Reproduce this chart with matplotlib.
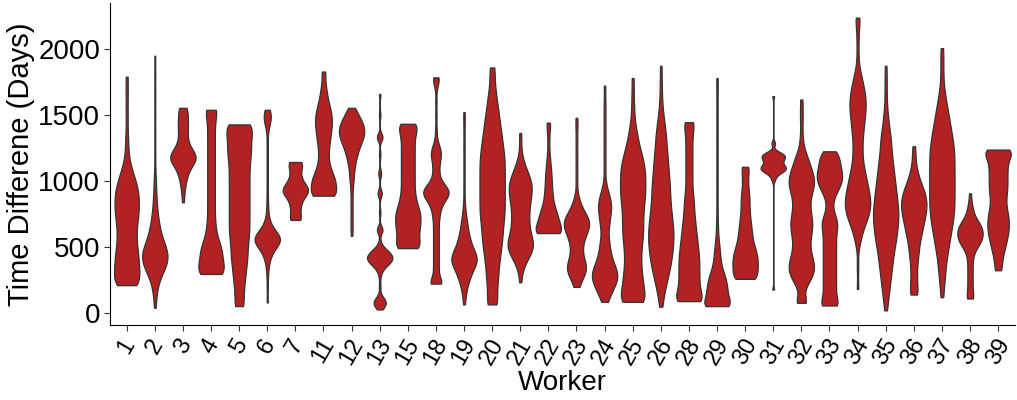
import numpy as np
import matplotlib.pyplot as plt

plt.rcParams['font.family'] = ['Liberation Sans', 'DejaVu Sans']

workers = ['1', '2', '3', '4', '5', '6', '7', '11', '12', '13', '15', '18', '19', '20',
           '21', '22', '23', '24', '25', '26', '28', '29', '30', '31', '32', '33', '34',
           '35', '36', '37', '38', '39']

# time differences (days) per worker: distinct values and how often each occurs
v1 = [209, 260, 320, 380, 440, 500, 560, 620, 680, 740, 800, 860, 920, 980, 1040, 1100, 1170, 1250, 1350, 1500, 1650, 1791]
n1 = [6, 5, 5, 5, 5, 4, 4, 4, 4, 5, 5, 5, 5, 4, 3, 2, 1, 1, 1, 1, 1, 1]
v2 = [38, 100, 160, 220, 280, 330, 380, 430, 480, 530, 590, 650, 720, 800, 880, 970, 1060, 1200, 1350, 1500, 1650, 1800, 1950]
n2 = [1, 1, 2, 3, 5, 8, 11, 12, 10, 8, 6, 5, 4, 3, 2, 2, 1, 1, 1, 1, 1, 1, 1]
v3 = [838, 900, 960, 1020, 1080, 1140, 1180, 1220, 1270, 1320, 1370, 1420, 1470, 1520, 1555]
n3 = [1, 1, 2, 3, 5, 8, 9, 7, 4, 3, 3, 4, 3, 3, 3]
v4 = [294, 330, 370, 410, 450, 490, 530, 580, 640, 700, 760, 820, 880, 940, 1000, 1060, 1120, 1180,
      1240, 1300, 1360, 1420, 1480, 1540]
n4 = [12, 6, 6, 6, 6, 6, 5, 4, 4, 3, 3, 3, 3, 3, 3, 3, 3, 3, 3, 3, 3, 3, 3, 7]
v5 = [50, 110, 170, 230, 290, 350, 410, 470, 530, 590, 650, 710, 770, 830, 890, 950, 1010, 1070,
      1130, 1190, 1250, 1310, 1370, 1429]
n5 = [4, 2, 3, 3, 4, 4, 5, 5, 5, 6, 6, 6, 6, 6, 6, 6, 6, 6, 6, 7, 7, 7, 7, 10]
v6 = [78, 200, 300, 350, 400, 450, 500, 540, 570, 600, 650, 700, 760, 820, 900, 1000, 1100, 1200,
      1300, 1400, 1440, 1480, 1510, 1540]
n6 = [1, 1, 1, 1, 2, 4, 7, 9, 9, 7, 4, 2, 1, 1, 1, 1, 1, 1, 1, 1, 2, 3, 2, 2]
v7 = [704, 740, 780, 820, 860, 900, 930, 960, 1000, 1040, 1080, 1120, 1144]
n7 = [5, 2, 3, 3, 4, 6, 7, 6, 4, 3, 3, 3, 5]
v11 = [888, 930, 970, 1010, 1050, 1100, 1150, 1200, 1250, 1300, 1350, 1400, 1450, 1500, 1550, 1600,
       1650, 1700, 1760, 1830]
n11 = [10, 5, 6, 6, 5, 4, 3, 3, 3, 4, 4, 5, 5, 5, 4, 3, 2, 2, 1, 2]
v12 = [584, 650, 720, 790, 860, 930, 1000, 1060, 1120, 1180, 1230, 1280, 1320, 1360, 1400, 1440,
       1480, 1520, 1555]
n12 = [1, 1, 1, 1, 1, 1, 2, 2, 3, 4, 5, 6, 7, 8, 8, 7, 5, 3, 2]
v13 = [25, 50, 75, 100, 125, 200, 277, 330, 370, 400, 430, 460, 490, 530, 629, 760, 906, 1057,
       1200, 1333, 1500, 1660]
n13 = [1, 3, 4, 3, 1, 1, 1, 3, 6, 8, 8, 6, 3, 1, 4, 1, 3, 2, 1, 4, 1, 1]
v15 = [490, 530, 570, 610, 650, 690, 730, 770, 810, 860, 910, 960, 1010, 1060, 1110, 1160, 1210,
       1260, 1310, 1360, 1400, 1434]
n15 = [9, 5, 5, 5, 6, 6, 6, 6, 5, 5, 4, 4, 4, 4, 4, 4, 4, 4, 4, 4, 4, 6]
v18 = [221, 260, 320, 380, 440, 500, 560, 620, 680, 740, 800, 850, 890, 920, 950, 990, 1040, 1090,
       1140, 1180, 1210, 1240, 1280, 1330, 1400, 1500, 1600, 1700, 1750, 1786]
n18 = [7, 3, 3, 3, 3, 3, 3, 3, 3, 4, 5, 7, 8, 8, 7, 5, 3, 3, 3, 3, 3, 3, 2, 1, 1, 1, 1, 1, 2, 3]
v19 = [63, 110, 160, 210, 260, 310, 360, 400, 440, 480, 530, 580, 640, 700, 770, 850, 950, 1050,
       1150, 1250, 1350, 1450, 1522]
n19 = [1, 1, 2, 3, 5, 7, 9, 10, 9, 7, 6, 5, 4, 3, 2, 1, 1, 1, 1, 1, 1, 1, 1]
v20 = [63, 120, 180, 240, 300, 360, 420, 480, 540, 600, 660, 720, 780, 840, 900, 960, 1020, 1080,
       1140, 1200, 1260, 1320, 1380, 1440, 1500, 1560, 1620, 1680, 1740, 1800, 1861]
n20 = [4, 2, 2, 3, 3, 3, 4, 4, 5, 5, 5, 6, 6, 6, 6, 6, 6, 6, 6, 6, 5, 5, 4, 4, 3, 3, 2, 2, 1, 1, 2]
v21 = [231, 300, 350, 400, 450, 500, 550, 600, 650, 700, 750, 800, 850, 900, 950, 1000, 1050, 1100,
       1150, 1200, 1280, 1364]
n21 = [1, 1, 2, 4, 6, 8, 7, 6, 5, 5, 5, 5, 6, 6, 7, 6, 5, 3, 2, 1, 1, 1]
v22 = [604, 640, 680, 720, 760, 800, 850, 900, 950, 1000, 1050, 1100, 1150, 1200, 1260, 1320, 1380,
       1420, 1442]
n22 = [16, 7, 8, 7, 6, 5, 4, 4, 3, 3, 3, 2, 2, 1, 1, 1, 1, 1, 2]
v23 = [196, 240, 280, 320, 360, 400, 440, 480, 520, 560, 600, 640, 680, 720, 760, 800, 850, 900,
       1000, 1100, 1200, 1300, 1400, 1479]
n23 = [2, 2, 4, 5, 5, 4, 3, 3, 3, 4, 5, 6, 7, 6, 4, 3, 2, 1, 1, 1, 1, 1, 1, 1]
v24 = [83, 130, 180, 230, 280, 330, 380, 430, 480, 530, 580, 630, 680, 730, 780, 830, 880, 930,
       1000, 1100, 1200, 1300, 1400, 1500, 1600, 1723]
n24 = [2, 3, 5, 7, 8, 7, 5, 4, 3, 3, 2, 2, 3, 3, 4, 4, 3, 2, 1, 1, 1, 1, 1, 1, 1, 1]
v25 = [83, 140, 200, 260, 320, 380, 440, 500, 560, 620, 680, 740, 800, 860, 920, 980, 1040, 1100,
       1160, 1220, 1280, 1340, 1400, 1480, 1560, 1660, 1781]
n25 = [9, 5, 5, 5, 4, 4, 4, 4, 5, 5, 5, 5, 5, 6, 6, 6, 6, 6, 5, 4, 3, 2, 2, 1, 1, 1, 1]
v26 = [46, 100, 160, 220, 280, 340, 400, 460, 520, 580, 640, 700, 760, 820, 880, 940, 1000, 1060,
       1120, 1180, 1240, 1300, 1360, 1420, 1480, 1560, 1640, 1740, 1874]
n26 = [1, 1, 2, 3, 4, 5, 6, 6, 7, 7, 7, 6, 6, 5, 5, 5, 5, 4, 4, 4, 3, 3, 3, 2, 2, 1, 1, 1, 1]
v28 = [88, 140, 200, 260, 320, 380, 440, 500, 560, 620, 680, 740, 800, 860, 920, 980, 1040, 1100,
       1160, 1220, 1280, 1340, 1400, 1446]
n28 = [11, 6, 6, 6, 6, 6, 6, 5, 5, 4, 4, 3, 3, 3, 2, 2, 2, 2, 2, 2, 2, 2, 2, 4]
v29 = [50, 90, 130, 170, 210, 250, 290, 330, 380, 430, 480, 530, 580, 640, 700, 800, 900, 1000,
       1100, 1200, 1300, 1400, 1500, 1600, 1700, 1781]
n29 = [16, 7, 7, 7, 7, 6, 5, 4, 3, 3, 2, 2, 1, 1, 1, 1, 1, 1, 1, 1, 1, 1, 1, 1, 1, 1]
v30 = [257, 300, 340, 380, 420, 460, 500, 550, 600, 650, 700, 750, 800, 850, 900, 950, 1000, 1050, 1107]
n30 = [10, 6, 7, 7, 7, 6, 6, 5, 5, 4, 4, 3, 3, 3, 3, 2, 2, 2, 4]
v31 = [176, 1000, 1030, 1060, 1080, 1100, 1120, 1140, 1160, 1180, 1200, 1220, 1285, 1643]
n31 = [1, 1, 2, 4, 6, 7, 5, 4, 5, 6, 6, 3, 2, 1]
v32 = [75, 120, 170, 220, 270, 320, 370, 420, 470, 520, 570, 620, 670, 720, 770, 820, 870, 920, 970,
       1020, 1070, 1120, 1170, 1220, 1280, 1350, 1450, 1530, 1618]
n32 = [4, 1, 1, 3, 5, 6, 6, 5, 4, 4, 4, 5, 5, 5, 4, 4, 4, 5, 6, 6, 5, 4, 3, 2, 1, 1, 1, 1, 1]
v33 = [55, 100, 150, 200, 250, 300, 350, 400, 450, 500, 550, 600, 650, 700, 750, 800, 850, 900, 950,
       1000, 1050, 1100, 1150, 1190, 1225]
n33 = [7, 4, 4, 4, 4, 4, 4, 4, 4, 4, 4, 4, 5, 5, 3, 2, 2, 4, 6, 8, 8, 7, 6, 4, 4]
v34 = [181, 350, 500, 560, 620, 680, 740, 800, 860, 920, 980, 1040, 1100, 1160, 1220, 1280, 1340,
       1400, 1460, 1520, 1580, 1640, 1700, 1760, 1820, 1900, 2000, 2100, 2180, 2239]
n34 = [1, 1, 1, 2, 3, 5, 7, 8, 8, 7, 6, 5, 4, 3, 3, 3, 3, 4, 4, 5, 5, 5, 4, 3, 2, 1, 1, 1, 1, 2]
v35 = [18, 80, 140, 200, 260, 320, 380, 440, 500, 560, 620, 680, 740, 800, 860, 920, 980, 1040, 1100,
       1160, 1220, 1280, 1340, 1400, 1480, 1560, 1660, 1760, 1874]
n35 = [1, 1, 2, 2, 3, 3, 4, 4, 5, 6, 6, 7, 7, 7, 6, 6, 5, 5, 4, 4, 3, 3, 3, 2, 2, 1, 1, 1, 1]
v36 = [138, 190, 250, 310, 370, 430, 490, 550, 610, 670, 730, 790, 850, 910, 970, 1030, 1090, 1150,
       1210, 1263]
n36 = [3, 2, 2, 2, 2, 3, 3, 4, 5, 6, 7, 8, 8, 7, 5, 3, 2, 1, 1, 1]
v37 = [118, 200, 280, 360, 440, 520, 600, 680, 760, 840, 920, 1000, 1080, 1160, 1240, 1320, 1400,
       1480, 1560, 1640, 1720, 1820, 1920, 2008]
n37 = [1, 1, 2, 2, 3, 4, 5, 6, 7, 7, 7, 7, 7, 7, 7, 6, 5, 4, 3, 2, 1, 1, 1, 1]
v38 = [108, 150, 200, 250, 300, 350, 400, 450, 500, 540, 580, 620, 660, 700, 750, 800, 850, 906]
n38 = [3, 2, 2, 2, 2, 2, 2, 3, 5, 7, 8, 8, 7, 5, 3, 2, 1, 1]
v39 = [322, 370, 420, 470, 520, 570, 620, 670, 720, 770, 820, 870, 920, 970, 1020, 1070, 1120, 1170,
       1210, 1238]
n39 = [3, 2, 3, 4, 5, 6, 7, 7, 7, 6, 5, 5, 6, 6, 6, 6, 6, 6, 6, 10]

values = [v1, v2, v3, v4, v5, v6, v7, v11, v12, v13, v15, v18, v19, v20, v21, v22, v23,
          v24, v25, v26, v28, v29, v30, v31, v32, v33, v34, v35, v36, v37, v38, v39]
counts = [n1, n2, n3, n4, n5, n6, n7, n11, n12, n13, n15, n18, n19, n20, n21, n22, n23,
          n24, n25, n26, n28, n29, n30, n31, n32, n33, n34, n35, n36, n37, n38, n39]

# kernel bandwidth (days) for each violin
bw = [70, 70, 50, 60, 60, 50, 40, 50, 50, 30, 50, 40, 50, 70, 50, 50, 45,
      50, 70, 80, 60, 50, 50, 20, 50, 45, 60, 70, 55, 80, 40, 50]

fig = plt.figure(figsize=(10.17, 4.0), dpi=100)
ax = fig.add_axes([0.108, 0.1875, 0.89, 0.805])

for i in range(len(workers)):
    d = np.repeat(np.array(values[i], dtype=float), counts[i])
    factor = bw[i] / np.std(d, ddof=1)
    parts = ax.violinplot([d], positions=[i], widths=0.9, showextrema=False,
                          bw_method=factor, points=500)
    for body in parts['bodies']:
        body.set_facecolor('#b22222')
        body.set_edgecolor('#333333')
        body.set_linewidth(0.9)
        body.set_alpha(1)

ax.set_xlim(-0.6, len(workers) - 0.4)
ax.set_ylim(-93, 2350)
ax.set_xticks(range(len(workers)))
ax.set_xticklabels(workers, rotation=60, ha='center', va='top')
ax.set_yticks([0, 500, 1000, 1500, 2000])
ax.tick_params(axis='x', labelsize=17, length=4, color='#333333', pad=3)
ax.tick_params(axis='y', labelsize=20, length=4, color='#333333', pad=3)
for s in ['top', 'right']:
    ax.spines[s].set_visible(False)
ax.set_xlabel('Worker', fontsize=20, labelpad=1)
ax.set_ylabel('Time Differene (Days)', fontsize=21, labelpad=2)

fig.savefig('out.png', dpi=100)
